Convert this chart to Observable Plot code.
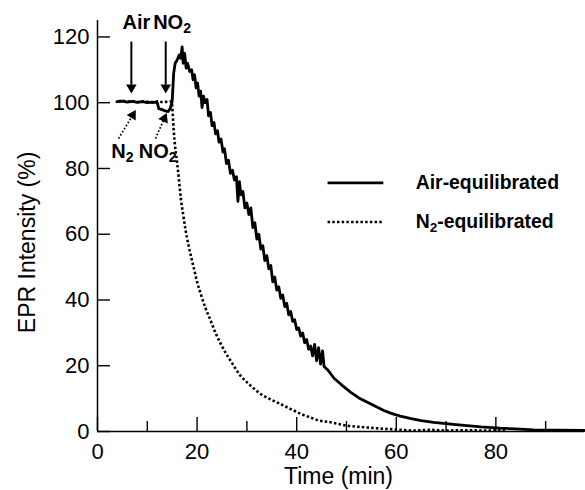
<!DOCTYPE html>
<html><head><meta charset="utf-8">
<script src="https://cdn.jsdelivr.net/npm/d3@7"></script>
<script src="https://cdn.jsdelivr.net/npm/@observablehq/plot@0.6"></script>
<style>body{margin:0;background:#fff}</style>
</head><body><div id="chart"></div>
<script>
// Air-equilibrated (solid) : time (min), EPR intensity (%)
const airT = [3.9,5,6,7,8,9,10,11,12,12.3,13,13.6,14.2,14.6,15.0,15.3,15.6,16.0,16.4,16.7,17.0,17.2,17.5,17.8,18.1,18.5,18.9,19.2,19.5,19.8,20.1,20.4,20.7,21.0,21.3,21.6,22.0,22.3,22.7,23.0,23.4,23.7,24.1,24.4,24.8,25.2,25.5,25.9,26.3,26.7,27.1,27.5,27.9,28.2,28.5,28.8,29.2,29.6,30.0,30.4,30.8,31.2,31.6,32.0,32.4,32.8,33.2,33.6,34.0,34.4,34.8,35.2,35.6,36.0,36.4,36.8,37.2,37.6,38.0,38.4,38.8,39.2,39.6,40.0,40.4,40.8,41.2,41.6,42.0,42.4,42.8,43.2,43.6,44.0,44.4,44.8,45.2,45.5,46.2,47.5,49,50.8,52.5,54.2,56,57.5,59,60.8,63,65,67.5,70,72,74.2,77,80.9,84,87.6,92,97.8];
const airV = [100.3,100.5,100.2,100.4,100.1,100.3,100.0,100.2,100.0,98.2,97.9,97.5,97.3,98.2,100.5,109,112,113,114.5,113.5,117,112,115,110.5,112,109.5,110,107,108.5,104.5,106,102,103.5,98.5,102,100,101,96,97,93,94,90.5,91.5,88,89,85,86,81.5,82.5,78.5,79.5,76.5,77.5,70,76,72,73,68,69.5,66,68,62,63.5,58.5,60,55.5,56.5,52,53.5,49.5,50.5,45.5,47,43,44,40.5,41.5,38,39,35.5,36.5,33.5,34,31,31.5,29,30,27,28,25,26,23,26.5,21.5,25.5,20.5,24.5,19.8,18.8,16.2,14.2,12.0,10.2,8.9,7.5,6.4,5.5,4.7,3.9,3.3,2.8,2.4,2.1,1.8,1.4,1.0,0.8,0.5,0.4,0.3];
// N2-equilibrated (dotted)
const n2T = [4.2,5,6,7,8,9,10,11,12,13,14,14.8,15.0,15.3,15.6,16.0,16.4,16.7,17.2,17.7,18.3,18.9,19.3,20.0,20.7,21.7,22.7,23.7,24.7,25.7,26.7,27.7,28.7,29.7,30.7,31.7,32.7,34.7,36.7,38.7,40.8,42.5,44.4,46.8,50.1,53.5,56.8,60,63.5,67,70,74,78,82];
const n2V = [100.4,100.6,100.3,100.5,100.2,100.4,100.3,100.1,100.4,100.2,100.3,100.4,99,91.7,86.5,81.6,76,71.4,66,61.2,56.5,52.5,50,45.5,42,37.5,33.8,30,26.8,24,21.6,19.2,17,15.4,14,12.7,11.5,9.8,8.4,6.9,5.4,4.4,3.4,2.8,1.8,1.3,0.9,0.6,0.3,0.5,0.3,0.4,0.3,0.5];

const xMajorTicks = [0,20,40,60,80];
const xMinorTicks = [10,30,50,70,90];
const yTicks = [0,20,40,60,80,100,120];

const xTitle = "Time (min)";
const yTitle = "EPR Intensity (%)";
const xTitlePos = {t: 48.4, v: -13.6};
const yTitlePos = {t: -14.1, v: 57.5};

// annotations
const annoText = ["Air","NO2","N2","NO2"];
const annoT = [5.02,11.18,2.75,8.3];
const annoV = [124.4,124.4,85.2,85.2];

const solidShafts = [{t1:6.8,v1:118.6,t2:6.8,v2:105.5},{t1:13.7,v1:118.6,t2:13.7,v2:105.5}];
const dottedShafts = [{t1:4.22,v1:89.1,t2:7.07,v2:96.2},{t1:11.65,v1:89.1,t2:13.41,v2:95.2}];
const heads = [{t:6.8,v:104.6,angle:180},{t:13.7,v:104.6,angle:180},{t:7.07,v:96.2,angle:31},{t:13.41,v:95.2,angle:24}];

// legend
const legendLabels = ["Air-equilibrated","N2-equilibrated"];
const legendRowV = [75.6,63.7];
const legendLineT = [46.2,57.4];
const legendTextT = 63.9;

const air = airT.map((t,i)=>({t, v: airV[i]}));
const n2 = n2T.map((t,i)=>({t, v: n2V[i]}));
const annos = annoText.map((s,i)=>({s, t: annoT[i], v: annoV[i]}));
const legend = legendLabels.map((s,i)=>({s, v: legendRowV[i], t1: legendLineT[0], t2: legendLineT[1], t: legendTextT}));

const font = "Arial, 'Liberation Sans', Helvetica, sans-serif";
const dots = "2.5,2.2";
const plot = Plot.plot({
  width: 585, height: 490,
  marginLeft: 97, marginRight: 1, marginTop: 20, marginBottom: 59,
  x: {domain: [0, 97.8]},
  y: {domain: [0, 125]},
  style: {fontFamily: font, fontSize: "22px", background: "white", color: "black", overflow: "visible"},
  marks: [
    Plot.axisX(xMajorTicks, {tickSize: -14, fill: "none", strokeWidth: 1.4, label: null}),
    Plot.axisX(xMinorTicks, {tickSize: -10, fill: "none", strokeWidth: 1.4, label: null}),
    Plot.axisX(xMajorTicks, {tickSize: 0, tickPadding: 12, fontSize: 22, label: null}),
    Plot.axisY(yTicks, {tickSize: -13, fill: "none", strokeWidth: 1.4, label: null}),
    Plot.axisY(yTicks, {tickSize: 0, tickPadding: 8, fontSize: 22, label: null}),
    Plot.ruleX([0], {strokeWidth: 1.5}),
    Plot.ruleY([0], {strokeWidth: 1.5}),
    Plot.text([xTitlePos], {x: "t", y: "v", text: () => xTitle, fontSize: 23}),
    Plot.text([yTitlePos], {x: "t", y: "v", text: () => yTitle, rotate: -90, fontSize: 23}),
    Plot.line(air, {x: "t", y: "v", stroke: "black", strokeWidth: 2.8, strokeLinejoin: "round"}),
    Plot.line(n2, {x: "t", y: "v", stroke: "black", strokeWidth: 2.6, strokeDasharray: dots, strokeLinecap: "butt", curve: "monotone-x"}),
    Plot.link(solidShafts, {x1: "t1", y1: "v1", x2: "t2", y2: "v2", stroke: "black", strokeWidth: 2}),
    Plot.link(dottedShafts, {x1: "t1", y1: "v1", x2: "t2", y2: "v2", stroke: "black", strokeWidth: 1.7, strokeDasharray: "1.7,1.9"}),
    Plot.dot(heads, {x: "t", y: "v", symbol: "triangle2", r: 5, fill: "black", stroke: "none", rotate: "angle"}),
    Plot.text(annos, {x: "t", y: "v", text: "s", textAnchor: "start", fontSize: 20, fontWeight: "bold"}),
    Plot.link(legend.slice(0,1), {x1: "t1", x2: "t2", y1: "v", y2: "v", stroke: "black", strokeWidth: 2.8}),
    Plot.link(legend.slice(1), {x1: "t1", x2: "t2", y1: "v", y2: "v", stroke: "black", strokeWidth: 2.6, strokeDasharray: dots}),
    Plot.text(legend, {x: "t", y: "v", text: "s", textAnchor: "start", fontSize: 19.4, fontWeight: "bold"})
  ]
});

// subscripts for N2 / NO2
const ns = "http://www.w3.org/2000/svg";
plot.querySelectorAll("text").forEach(el => {
  if (el.querySelector("tspan")) return;
  const m = el.textContent.match(/^(N|NO)2(.*)$/);
  if (!m) return;
  el.textContent = "";
  const a = document.createElementNS(ns, "tspan"); a.textContent = m[1];
  const b = document.createElementNS(ns, "tspan"); b.textContent = "2";
  b.setAttribute("font-size", "70%"); b.setAttribute("dy", "0.3em");
  el.append(a, b);
  if (m[2]) {
    const c = document.createElementNS(ns, "tspan"); c.textContent = m[2];
    c.setAttribute("dy", "-0.21em");
    el.append(c);
  }
});
document.getElementById("chart").append(plot);
</script>
</body></html>
